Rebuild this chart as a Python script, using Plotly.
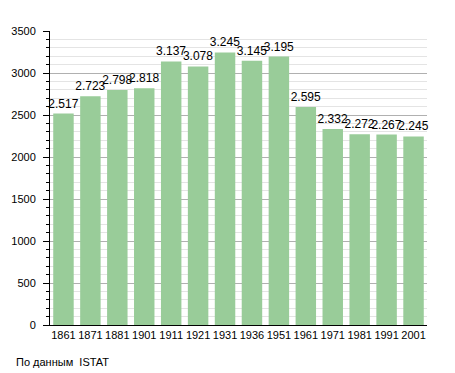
import plotly.graph_objects as go

years = ["1861", "1871", "1881", "1901", "1911", "1921", "1931", "1936", "1951", "1961", "1971", "1981", "1991", "2001"]
population = [2517, 2723, 2798, 2818, 3137, 3078, 3245, 3145, 3195, 2595, 2332, 2272, 2267, 2245]
labels = [f"{v/1000:.3f}" for v in population]
y_ticks = [0, 500, 1000, 1500, 2000, 2500, 3000, 3500]

fig = go.Figure()
fig.add_trace(go.Bar(
    x=years, y=population,
    text=labels, textposition="outside", cliponaxis=False, constraintext="none",
    textfont=dict(family="Liberation Sans, Arial, sans-serif", size=12, color="black"),
    marker=dict(color="#99cc99", line=dict(width=0)),
    hoverinfo="x+y",
))

fig.update_layout(
    width=447, height=365,
    margin=dict(l=42, r=28, t=23, b=48),
    paper_bgcolor="white", plot_bgcolor="white",
    bargap=0.24,
    showlegend=False,
    font=dict(family="Liberation Sans, Arial, sans-serif", size=11, color="black"),
)
fig.update_xaxes(
    type="category", showline=True, linecolor="black", linewidth=1,
    ticks="", showgrid=False, tickfont=dict(size=11), tickangle=0,
    automargin=False,
)
fig.update_yaxes(
    range=[0, 3500], tickvals=y_ticks, showline=True, linecolor="black", linewidth=1,
    ticks="outside", ticklen=6, tickcolor="black", ticklabelstandoff=5,
    showgrid=True, gridcolor="#b0b0b0", gridwidth=1, zeroline=False,
    minor=dict(dtick=100, ticks="outside", ticklen=3, tickcolor="black",
               showgrid=True, gridcolor="#e4e4e4", gridwidth=1),
    tickfont=dict(size=11), automargin=False,
)
fig.add_annotation(
    text="По данным  ISTAT", xref="paper", yref="paper",
    x=-36/377, y=-37/294, xanchor="left", yanchor="middle",
    showarrow=False, font=dict(size=11, color="black"),
)
fig.write_html("out.html")
